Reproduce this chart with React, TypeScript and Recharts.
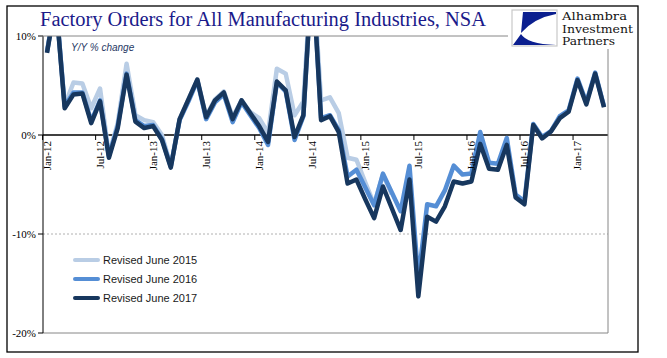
import React from 'react';
import { LineChart, Line, XAxis, YAxis, ReferenceLine } from 'recharts';

const months = [
  'Jan-12', 'Feb-12', 'Mar-12', 'Apr-12', 'May-12', 'Jun-12', 'Jul-12', 'Aug-12', 'Sep-12', 'Oct-12', 'Nov-12', 'Dec-12',
  'Jan-13', 'Feb-13', 'Mar-13', 'Apr-13', 'May-13', 'Jun-13', 'Jul-13', 'Aug-13', 'Sep-13', 'Oct-13', 'Nov-13', 'Dec-13',
  'Jan-14', 'Feb-14', 'Mar-14', 'Apr-14', 'May-14', 'Jun-14', 'Jul-14', 'Aug-14', 'Sep-14', 'Oct-14', 'Nov-14', 'Dec-14',
  'Jan-15', 'Feb-15', 'Mar-15', 'Apr-15', 'May-15', 'Jun-15', 'Jul-15', 'Aug-15', 'Sep-15', 'Oct-15', 'Nov-15', 'Dec-15',
  'Jan-16', 'Feb-16', 'Mar-16', 'Apr-16', 'May-16', 'Jun-16', 'Jul-16', 'Aug-16', 'Sep-16', 'Oct-16', 'Nov-16', 'Dec-16',
  'Jan-17', 'Feb-17', 'Mar-17', 'Apr-17',
];

// Y/Y % change
const rev2015 = [
  8.5, 13.5, 3.0, 5.3, 5.2, 2.7, 4.7, -2.0, 1.2, 7.2, 2.0, 1.5,
  1.3, 0.0, -3.1, 1.6, 3.6, 5.6, 1.9, 3.6, 4.4, 1.8, 3.5, 2.3,
  1.7, 0.2, 6.7, 6.2, 2.0, 3.4, 17.5, 3.5, 3.8, 2.2, -2.3, -2.5,
  -4.8, -7.0, -4.0, -6.0,
];

const rev2016 = [
  8.4, 13.6, 2.9, 4.3, 4.3, 1.4, 3.5, -2.1, 0.9, 6.2, 1.5, 0.9,
  1.0, -0.4, -3.2, 1.5, 3.4, 5.5, 1.6, 3.3, 4.1, 1.3, 3.3, 2.0,
  0.7, -1.0, 5.3, 4.4, -0.5, 1.9, 17.0, 1.7, 2.0, 0.5, -4.2, -3.5,
  -5.3, -7.1, -3.9, -5.8, -7.7, -3.1, -14.6, -7.0, -7.2, -5.6, -3.1, -4.0,
  -3.9, 0.3, -2.8, -2.9, -0.3, -6.0, -6.7, 1.1, -0.2, 0.4, 1.9, 2.5,
  5.7, 3.3, 6.3, 2.9,
];

const rev2017 = [
  8.3, 13.5, 2.7, 4.1, 4.2, 1.2, 3.4, -2.3, 0.7, 6.1, 1.35, 0.7,
  0.9, -0.5, -3.3, 1.6, 3.6, 5.6, 1.8, 3.5, 4.3, 1.6, 3.5, 2.2,
  0.9, -0.7, 5.4, 4.5, -0.2, 2.0, 17.0, 1.5, 1.9, 0.3, -4.9, -4.5,
  -6.5, -8.4, -5.2, -7.4, -9.6, -4.5, -16.3, -8.25, -8.75, -7.2, -4.7, -4.9,
  -4.7, -0.9, -3.4, -3.5, -1.0, -6.3, -7.0, 1.0, -0.35, 0.35, 1.7, 2.35,
  5.55, 3.1, 6.2, 2.8,
];

const seriesKeys = ['r15', 'r16', 'r17'];
const seriesNames = ['Revised June 2015', 'Revised June 2016', 'Revised June 2017'];
const seriesColors = ['#b9cde5', '#558ed5', '#17375e'];
const yTicks = [-20, -10, 0, 10];

const data = months.map((m, i) => ({
  month: m,
  r15: i < rev2015.length ? rev2015[i] : null,
  r16: i < rev2016.length ? rev2016[i] : null,
  r17: i < rev2017.length ? rev2017[i] : null,
}));

const W = 667;
const H = 358;
const PLOT_TOP = 36;
const PLOT_BOTTOM = 333;
const PLOT_LEFT = 43;
const PLOT_RIGHT = 608;
const ZERO_Y = PLOT_TOP + (PLOT_BOTTOM - PLOT_TOP) / 3;
const STEP = (PLOT_RIGHT - PLOT_LEFT - 8) / (months.length - 1);

// month labels sit on the 0% line, not under the plot
function MonthTick(props: any) {
  const { x, payload } = props;
  const tx = x + 4;
  const ty = ZERO_Y + 6;
  return (
    <g>
      <line x1={x - STEP / 2} x2={x - STEP / 2} y1={ZERO_Y} y2={ZERO_Y + 5} stroke="#000" />
      <text
        x={tx}
        y={ty}
        transform={`rotate(-90 ${tx} ${ty})`}
        textAnchor="end"
        fontFamily="'Liberation Serif', serif"
        fontSize={11}
        fill="#000"
      >
        {payload.value}
      </text>
    </g>
  );
}

export default function App() {
  return (
    <div style={{ position: 'absolute', left: 0, top: 0, width: W, height: H, background: '#fff' }}>
      <LineChart
        width={W}
        height={H}
        data={data}
        margin={{ top: PLOT_TOP, right: W - PLOT_RIGHT, bottom: H - PLOT_BOTTOM - 10, left: 8 }}
      >
        <ReferenceLine y={-10} stroke="#b0b0b0" strokeDasharray="2 2" />
        <ReferenceLine y={-20} stroke="#868686" />
        <ReferenceLine y={0} stroke="#000" strokeWidth={1.3} />
        <XAxis
          dataKey="month"
          interval={5}
          height={10}
          padding={{ left: 4, right: 4 }}
          axisLine={false}
          tickLine={false}
          tick={(p: any) => <MonthTick {...p} />}
        />
        <YAxis
          width={35}
          domain={[-20, 10]}
          ticks={yTicks}
          allowDataOverflow
          tickFormatter={(v: number) => `${v}%`}
          tickSize={5}
          tickMargin={2}
          axisLine={{ stroke: '#000' }}
          tickLine={{ stroke: '#000' }}
          tick={{ fontFamily: "'Liberation Serif', serif", fontSize: 11, fill: '#000' }}
        />
        {seriesKeys.map((k, i) => (
          <Line
            key={k}
            type="linear"
            dataKey={k}
            name={seriesNames[i]}
            stroke={seriesColors[i]}
            strokeWidth={4.5}
            strokeLinejoin="round"
            dot={false}
            isAnimationActive={false}
          />
        ))}
      </LineChart>

      <svg
        width={W}
        height={H}
        style={{ position: 'absolute', left: 0, top: 0, pointerEvents: 'none' }}
      >
        <rect x={7} y={6} width={631} height={346} fill="none" stroke="#000" strokeWidth={1.3} />
        <text
          x={40}
          y={26}
          fontFamily="'Liberation Serif', serif"
          fontSize={20}
          fill="#1a1a8a"
          textLength={446}
          lengthAdjust="spacingAndGlyphs"
        >
          Factory Orders for All Manufacturing Industries, NSA
        </text>
        <line x1={38} x2={508} y1={PLOT_TOP} y2={PLOT_TOP} stroke="#868686" />
        <line x1={PLOT_RIGHT} x2={PLOT_RIGHT} y1={49} y2={PLOT_BOTTOM} stroke="#868686" />

        {/* logo */}
        <rect x={512} y={10} width={45} height={36} fill="#fff" stroke="#c8c8c8" strokeWidth={1.2} />
        <path d="M523,12 L556,12 L556,14 Q534,18 521,33 Z" fill="#0b1f8f" />
        <path d="M513,45 L521,34 Q527,44 556,45 Z" fill="#0b1f8f" />
        <text x={562} y={20} fontFamily="'DejaVu Serif', serif" fontSize={11.5} fill="#111" textLength={65} lengthAdjust="spacingAndGlyphs">Alhambra</text>
        <text x={562} y={32.5} fontFamily="'DejaVu Serif', serif" fontSize={11.5} fill="#111" textLength={71} lengthAdjust="spacingAndGlyphs">Investment</text>
        <text x={562} y={45} fontFamily="'DejaVu Serif', serif" fontSize={11.5} fill="#111" textLength={53} lengthAdjust="spacingAndGlyphs">Partners</text>

        <text x={71} y={51} fontFamily="'Liberation Sans', sans-serif" fontStyle="italic" fontSize={10} fill="#1f3864">
          Y/Y % change
        </text>

        {seriesNames.map((name, i) => {
          const ly = 260 + i * 19;
          return (
            <g key={name}>
              <line x1={75} x2={98} y1={ly} y2={ly} stroke={seriesColors[i]} strokeWidth={4} strokeLinecap="round" />
              <text x={103} y={ly + 4} fontFamily="'Liberation Sans', sans-serif" fontSize={11} fill="#1a1a1a">
                {name}
              </text>
            </g>
          );
        })}
      </svg>
    </div>
  );
}
